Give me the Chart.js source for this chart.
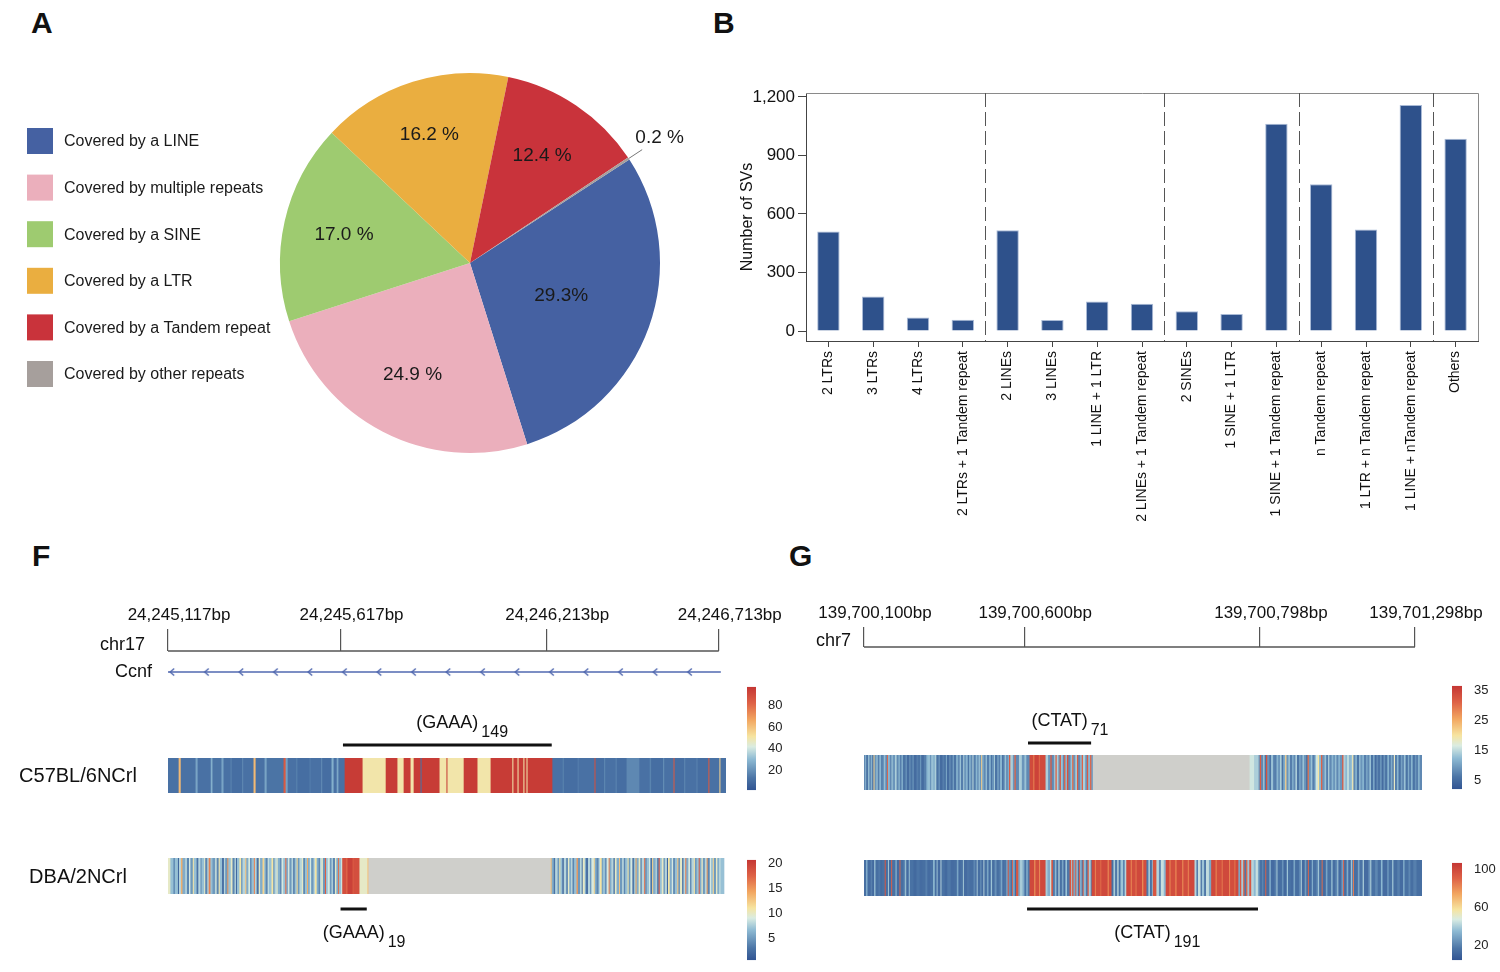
<!DOCTYPE html>
<html>
<head>
<meta charset="utf-8">
<script src="https://cdn.jsdelivr.net/npm/chart.js@4.4.1/dist/chart.umd.min.js"></script>
<style>
  body { margin: 0; background: #fff; width: 1500px; height: 972px; position: relative; overflow: hidden; }
  .box { position: absolute; }
  .tag { position: absolute; font: bold 30px "Liberation Sans", Arial, sans-serif; color: #111; line-height: 30px; }
</style>
</head>
<body>
<div class="tag" style="left:31px;top:8px">A</div>
<div class="tag" style="left:713px;top:8px">B</div>
<div class="tag" style="left:32px;top:541px">F</div>
<div class="tag" style="left:789px;top:541px">G</div>

<div class="box" style="left:0;top:0;width:720px;height:470px"><canvas id="pie"></canvas></div>
<div class="box" style="left:720px;top:40px;width:780px;height:500px"><canvas id="bars"></canvas></div>

<div class="box" style="left:0;top:590px;width:790px;height:100px"><canvas id="fHead"></canvas></div>
<div class="box" style="left:0;top:700px;width:790px;height:100px"><canvas id="fC57"></canvas></div>
<div class="box" style="left:0;top:840px;width:790px;height:132px"><canvas id="fDBA"></canvas></div>
<div class="box" style="left:740px;top:675px;width:60px;height:127px"><canvas id="fBar1"></canvas></div>
<div class="box" style="left:740px;top:848px;width:60px;height:124px"><canvas id="fBar2"></canvas></div>

<div class="box" style="left:780px;top:590px;width:720px;height:64px"><canvas id="gHead"></canvas></div>
<div class="box" style="left:780px;top:695px;width:720px;height:100px"><canvas id="gT1"></canvas></div>
<div class="box" style="left:780px;top:845px;width:720px;height:127px"><canvas id="gT2"></canvas></div>
<div class="box" style="left:1445px;top:674px;width:55px;height:127px"><canvas id="gBar1"></canvas></div>
<div class="box" style="left:1445px;top:851px;width:55px;height:121px"><canvas id="gBar2"></canvas></div>

<script>
// ---------- A: repeat class of SVs ----------
const repeatClasses = ['Covered by a LINE', 'Covered by multiple repeats', 'Covered by a SINE',
  'Covered by a LTR', 'Covered by a Tandem repeat', 'Covered by other repeats'];
const repeatShares = [29.3, 24.9, 17.0, 16.2, 12.4, 0.2];
const shareLabels = ['29.3%', '24.9 %', '17.0 %', '16.2 %', '12.4 %', '0.2 %'];

// ---------- B: repeat combinations ----------
const comboLabels = ['2 LTRs', '3 LTRs', '4 LTRs', '2 LTRs + 1 Tandem repeat', '2 LINEs', '3 LINEs',
  '1 LINE + 1 LTR', '2 LINEs + 1 Tandem repeat', '2 SINEs', '1 SINE + 1 LTR', '1 SINE + 1 Tandem repeat',
  'n Tandem repeat', '1 LTR + n Tandem repeat', '1 LINE + nTandem repeat', 'Others'];
const comboCounts = [510, 177, 69, 58, 517, 57, 152, 140, 101, 88, 1062, 752, 520, 1159, 986];
const groupEnds = [3, 7, 10, 13];
const countTicks = [0, 300, 600, 900, 1200];

// ---------- F: chr17 / Ccnf ----------
const chr17Ticks = [0, 500, 1096, 1596];
const chr17TickLabels = ['24,245,117bp', '24,245,617bp', '24,246,213bp', '24,246,713bp'];
const ccnfSpan = [0, 1602];
const ccnfArrows = [12, 112, 212, 312, 412, 512, 612, 712, 812, 912, 1012, 1112, 1212, 1312, 1412, 1512];

// coverage runs: [length in bp, depth]; null = no alignment
const c57Runs = [
  [32, 12], [6, 62], [43, 12], [6, 25], [38, 12], [5, 28], [26, 13], [6, 25],
  [20, 12], [4, 16], [30, 11], [3, 18], [30, 12], [6, 62], [26, 12], [6, 25], [49, 13], [6, 85], [6, 24],
  [25, 12], [3, 17], [35, 11], [4, 15], [30, 12], [3, 19], [27, 11], [6, 28], [9, 12], [5, 26], [18, 12],
  [52, 95], [67, 50], [34, 95], [18, 50], [20, 95], [9, 50], [20, 95], [3, 12], [52, 95], [20, 50], [3, 95],
  [47, 50], [40, 95], [38, 50], [63, 95], [3, 50], [12, 95], [3, 50], [14, 95], [3, 50], [6, 95], [3, 50], [72, 95],
  [30, 12], [3, 17], [40, 11], [4, 15], [45, 12], [3, 88],
  [25, 11], [3, 18], [30, 12], [4, 16], [28, 11], [37, 18],
  [30, 12], [4, 17], [35, 11], [3, 20], [27, 12], [3, 85],
  [28, 11], [3, 18], [32, 12], [4, 16], [31, 11], [3, 85], [29, 12], [3, 55], [15, 12]
];
const dbaRuns = [
  [8, 10], [9, 7], [4, 4], [9, 7], [3, 2], [6, 8], [4, 14], [8, 6], [5, 8], [6, 4],
  [4, 9], [7, 5], [3, 11], [8, 7], [5, 3], [6, 8], [4, 5], [7, 7], [3, 10], [6, 4],
  [4, 8], [5, 16], [6, 7], [8, 5], [4, 9], [6, 4], [3, 11], [7, 7], [5, 2], [4, 8],
  [6, 5], [3, 15], [7, 7], [5, 10], [6, 4], [4, 8], [3, 2], [7, 7], [5, 11], [4, 5],
  [8, 8], [3, 13], [6, 6], [5, 9], [4, 4], [7, 7], [3, 16], [5, 8], [6, 3], [4, 10],
  [7, 6], [5, 12], [4, 7], [6, 4], [3, 9], [8, 7], [5, 11], [4, 5], [6, 8], [3, 10],
  [7, 6], [4, 4], [5, 9], [6, 7], [3, 17], [5, 6], [4, 9], [6, 5], [5, 8], [4, 3],
  [6, 7], [3, 12], [5, 5], [7, 8], [4, 10], [5, 4], [6, 7], [3, 14], [5, 6], [4, 9],
  [7, 5], [4, 8], [5, 11], [6, 6], [3, 3], [5, 8], [4, 10], [6, 5], [3, 18], [5, 7],
  [6, 9], [5, 5], [4, 8], [6, 4], [4, 10], [5, 6], [3, 17], [6, 7], [3, 9],
  [12, 19], [3, 17], [15, 20], [3, 18], [17, 19], [23, 10], [3, 13], [528, null], [3, 13],
  [6, 6], [4, 3], [7, 8], [5, 5], [3, 11], [6, 7], [4, 2], [7, 8], [5, 4], [4, 10],
  [6, 6], [3, 9], [5, 4], [7, 7], [4, 15], [6, 5], [5, 8], [3, 3], [6, 10], [4, 6],
  [5, 2], [6, 8], [4, 5], [7, 9], [3, 12], [5, 6], [6, 4], [4, 8], [5, 11], [3, 5],
  [7, 7], [4, 4], [6, 9], [3, 16], [5, 6], [6, 8], [4, 3], [5, 10], [7, 6], [3, 13],
  [6, 5], [5, 8], [4, 4], [7, 7], [3, 11], [5, 5], [6, 9], [4, 2], [5, 7], [3, 14],
  [6, 6], [5, 10], [4, 4], [7, 8], [3, 17], [5, 5], [6, 7], [4, 9], [5, 3], [3, 12],
  [7, 6], [4, 8], [5, 4], [3, 19], [6, 7], [5, 10], [4, 5], [6, 8], [3, 2], [5, 11],
  [6, 6], [4, 9], [5, 4], [7, 7], [3, 13], [5, 5], [6, 10], [4, 3], [5, 8], [3, 16],
  [6, 6], [5, 9], [4, 4], [7, 8], [3, 11], [5, 5], [6, 7], [3, 18], [5, 6], [4, 10],
  [6, 5], [5, 8], [3, 15], [6, 4], [4, 9], [5, 7], [3, 12], [6, 5], [4, 10], [5, 6], [5, 8], [8, 7]
];
const c57Repeat = { unit: '(GAAA)', count: '149', from: 507, to: 1112 };
const dbaRepeat = { unit: '(GAAA)', count: '19', from: 500, to: 576 };
const c57Scale = [2, 97], c57ScaleTicks = [20, 40, 60, 80];
const dbaScale = [0.7, 20.8], dbaScaleTicks = [5, 10, 15, 20];

// ---------- G: chr7 ----------
const chr7Ticks = [0, 500, 1236, 1720];
const chr7TickLabels = ['139,700,100bp', '139,700,600bp', '139,700,798bp', '139,701,298bp'];
const g1Runs = [
  [5, 8], [3, 12], [6, 6], [4, 13], [5, 8], [3, 12], [5, 7], [3, 22],
  [6, 9], [4, 13], [5, 7], [6, 12], [4, 6], [5, 9], [4, 13], [5, 8], [3, 31],
  [6, 12], [5, 8], [4, 13], [7, 9], [5, 14], [6, 8], [4, 12], [5, 7], [5, 11],
  [8, 6], [4, 9], [7, 5], [5, 8], [6, 6], [3, 10], [9, 5], [5, 7], [6, 6], [4, 9], [8, 5], [8, 7],
  [6, 12], [5, 13], [4, 9], [7, 13], [4, 11], [5, 14],
  [7, 6], [4, 9], [8, 5], [5, 7], [6, 6], [3, 11], [7, 5], [5, 8], [6, 6], [4, 10], [7, 6],
  [5, 12], [6, 8], [4, 13], [7, 7], [3, 14], [6, 9], [5, 12], [4, 6], [6, 11], [5, 8], [3, 15], [7, 7], [5, 12], [4, 8], [4, 13], [4, 9],
  [3, 22],
  [5, 11], [6, 8], [4, 13], [7, 7], [5, 12], [4, 6], [6, 9], [3, 14], [7, 6], [5, 10], [4, 7], [6, 12], [5, 6], [4, 9], [4, 13], [5, 8], [4, 11],
  [4, 32], [8, 14], [5, 9], [4, 31], [10, 8], [9, 14], [8, 9], [6, 13], [10, 8],
  [12, 34], [3, 28], [14, 35], [3, 30], [18, 34], [8, 14], [7, 9],
  [4, 32], [7, 8], [5, 13], [4, 31], [5, 14], [4, 9], [4, 32], [6, 13], [4, 8], [4, 31], [5, 12], [4, 33], [7, 8], [5, 13],
  [4, 30], [6, 9], [5, 14], [4, 32], [6, 8], [5, 12], [4, 31], [7, 14], [5, 9], [4, 32], [6, 12], [4, 31], [5, 10],
  [489, null], [14, 16], [14, 14],
  [4, 9], [4, 32], [6, 8], [5, 13], [4, 6], [4, 33],
  [7, 9], [5, 6], [6, 13], [4, 8], [7, 7], [5, 12], [6, 9], [5, 14], [5, 6], [6, 11], [4, 22],
  [6, 9], [5, 13], [7, 7], [4, 12], [6, 8], [5, 14], [7, 6], [4, 11], [6, 8], [5, 13], [6, 9], [5, 6], [4, 30],
  [6, 9], [5, 13], [7, 7], [4, 12], [6, 16], [4, 20], [6, 12], [4, 31],
  [7, 9], [5, 13], [6, 7], [4, 14], [7, 8], [5, 12], [6, 9], [4, 13], [6, 8], [5, 12], [7, 9], [4, 32],
  [6, 14], [5, 12], [7, 15], [4, 11], [5, 13], [4, 19],
  [6, 8], [5, 12], [7, 6], [4, 13], [6, 9], [5, 12], [7, 7], [4, 11], [6, 8], [5, 13],
  [7, 6], [4, 12], [6, 5], [5, 8], [7, 6], [4, 10], [6, 5], [5, 9], [7, 6], [5, 12], [6, 7], [5, 11], [4, 6], [4, 18],
  [6, 7], [5, 12], [7, 6], [4, 10], [6, 8], [5, 13], [7, 6], [4, 11], [6, 7], [5, 12], [7, 6], [4, 9], [6, 7], [5, 12], [5, 8]
];
const g2Runs = [
  [8, 15], [4, 35], [10, 14], [5, 20], [6, 13], [4, 38], [9, 15], [6, 18], [6, 14], [8, 16],
  [3, 95], [7, 15], [3, 40], [7, 14], [3, 92], [10, 16], [5, 30], [8, 14], [3, 90],
  [10, 15], [5, 22], [3, 40], [8, 14], [3, 38], [12, 16], [9, 13], [10, 17], [8, 14], [10, 15], [6, 20], [9, 14], [9, 16], [5, 36],
  [6, 15], [3, 38], [9, 14], [3, 42], [10, 16], [8, 13], [11, 18], [9, 14], [10, 15], [5, 30], [6, 14], [8, 16], [3, 40],
  [10, 14], [8, 17], [12, 15], [6, 22], [4, 14], [3, 40],
  [8, 15], [4, 24], [6, 14], [3, 42], [8, 16], [5, 30], [7, 14], [4, 38], [8, 15], [6, 25], [7, 15],
  [6, 18], [5, 30], [4, 14], [8, 17], [5, 28],
  [3, 95], [6, 25], [4, 15], [3, 92], [6, 30], [4, 14], [7, 95], [5, 30], [8, 40], [6, 32], [6, 16], [4, 35], [6, 18],
  [15, 100], [3, 75], [12, 98], [3, 80], [17, 100],
  [6, 40], [8, 32], [4, 45], [5, 95], [6, 18], [5, 35], [6, 15], [4, 42], [7, 16], [5, 30], [6, 14], [5, 38], [8, 18],
  [5, 96], [3, 40], [4, 94], [6, 30], [3, 93], [5, 35], [3, 15], [3, 95], [6, 32], [3, 16], [3, 94], [7, 35], [5, 18], [4, 92], [6, 40], [3, 20],
  [10, 100], [3, 82], [14, 98], [3, 88], [20, 100], [3, 78], [9, 98],
  [6, 15], [5, 40], [7, 18], [4, 45], [6, 16], [8, 38], [5, 20], [5, 42],
  [14, 100], [3, 80], [12, 98], [3, 85], [18, 100], [3, 75], [10, 98],
  [6, 18], [5, 40], [6, 16], [3, 35], [11, 95], [8, 42], [6, 22], [9, 45], [6, 35],
  [12, 100], [3, 80], [15, 98], [4, 82], [18, 100], [3, 78], [14, 98], [4, 85], [17, 100],
  [6, 42], [5, 20], [8, 45], [4, 16], [7, 38], [6, 18], [9, 44], [7, 30],
  [14, 100], [3, 80], [16, 98], [3, 85], [20, 100], [3, 82], [13, 98], [4, 88], [9, 100],
  [5, 30], [4, 95], [6, 40], [4, 92], [5, 18], [4, 90], [6, 38], [6, 95],
  [8, 42], [6, 35], [7, 45], [5, 30], [8, 16], [4, 22], [6, 15], [3, 92],
  [10, 15], [4, 35], [12, 14], [6, 20], [3, 40], [14, 15], [5, 25], [10, 13], [4, 38], [9, 16], [8, 14], [5, 30],
  [12, 15], [6, 22], [3, 42], [9, 14], [5, 28], [5, 15], [3, 90],
  [9, 14], [4, 32], [11, 16], [5, 24], [3, 40], [8, 15], [3, 88],
  [10, 14], [5, 30], [12, 16], [4, 38], [9, 15], [6, 22], [3, 40], [10, 14], [5, 28], [3, 92],
  [8, 15], [5, 32], [8, 14], [4, 38], [3, 20], [3, 85],
  [12, 15], [5, 30], [10, 17], [4, 40], [14, 14], [6, 25], [3, 42], [12, 16], [8, 22], [10, 15], [5, 35],
  [14, 14], [6, 24], [10, 16], [4, 38], [12, 15], [8, 20], [10, 14], [5, 30], [12, 16], [6, 22], [9, 15], [10, 20], [15, 15]
];
const ctat71 = { unit: '(CTAT)', count: '71', from: 512, to: 709 };
const ctat191 = { unit: '(CTAT)', count: '191', from: 509, to: 1230 };
const g1Scale = [2, 36.6], g1ScaleTicks = [5, 15, 25, 35];
const g2Scale = [5, 107], g2ScaleTicks = [20, 60, 100];

// ---------- styling ----------
const FONT = '"Liberation Sans", Arial, Helvetica, sans-serif';
Chart.defaults.font.family = FONT;
Chart.defaults.color = '#111';
Chart.defaults.animation = false;
Chart.defaults.responsive = true;
Chart.defaults.maintainAspectRatio = false;
Chart.defaults.plugins.legend.display = false;
Chart.defaults.plugins.tooltip.enabled = false;

const pieColors = ['#4561a2', '#ebafbc', '#9ecb70', '#eaae40', '#c9333b', '#a69f9c'];
const labelRadius = [0.51, 0.66, 0.68, 0.71, 0.68, 1.195];
const gapColor = '#cfcfcb';
const heatStops = [
  [0.00, [49, 84, 146]],
  [0.12, [76, 117, 166]],
  [0.30, [142, 186, 211]],
  [0.42, [218, 236, 226]],
  [0.52, [246, 228, 160]],
  [0.68, [242, 166, 96]],
  [0.84, [222, 98, 70]],
  [1.00, [196, 54, 52]]
];

function heat(v, lo, hi) {
  if (v === null) return gapColor;
  const t = Math.min(1, Math.max(0, (v - lo) / (hi - lo)));
  for (let i = 1; i < heatStops.length; i++) {
    if (t <= heatStops[i][0]) {
      const [t0, c0] = heatStops[i - 1];
      const [t1, c1] = heatStops[i];
      const f = (t - t0) / (t1 - t0);
      return 'rgb(' + c0.map((c, k) => Math.round(c + (c1[k] - c) * f)).join(',') + ')';
    }
  }
  return 'rgb(196,54,52)';
}

function runsToBars(runs) {
  const bars = [];
  let pos = 0;
  for (const [len, val] of runs) {
    bars.push({ x: [pos, pos + len], y: 0, v: val });
    pos += len;
  }
  return bars;
}

// ---------- A ----------
const pieDecor = {
  id: 'pieDecor',
  afterDraw(chart) {
    const ctx = chart.ctx;
    ctx.save();
    ctx.font = '19px ' + FONT;
    ctx.fillStyle = '#1a1a1a';
    ctx.textAlign = 'center';
    ctx.textBaseline = 'middle';
    chart.getDatasetMeta(0).data.forEach((arc, i) => {
      const p = arc.getProps(['x', 'y', 'startAngle', 'endAngle', 'outerRadius'], true);
      const mid = (p.startAngle + p.endAngle) / 2;
      const r = p.outerRadius;
      if (labelRadius[i] > 1) {
        ctx.strokeStyle = '#777';
        ctx.lineWidth = 1;
        ctx.beginPath();
        ctx.moveTo(p.x + Math.cos(mid) * r, p.y + Math.sin(mid) * r);
        ctx.lineTo(p.x + Math.cos(mid) * r * 1.085, p.y + Math.sin(mid) * r * 1.085);
        ctx.stroke();
      }
      ctx.fillText(shareLabels[i], p.x + Math.cos(mid) * r * labelRadius[i], p.y + Math.sin(mid) * r * labelRadius[i]);
    });
    // legend
    ctx.font = '16px ' + FONT;
    ctx.textAlign = 'left';
    repeatClasses.forEach((name, i) => {
      const cy = 141 + i * 46.6;
      ctx.fillStyle = pieColors[i];
      ctx.fillRect(27, cy - 13, 26, 26);
      ctx.fillStyle = '#1a1a1a';
      ctx.fillText(name, 64, cy + 1);
    });
    ctx.restore();
  }
};

new Chart(document.getElementById('pie'), {
  type: 'pie',
  data: {
    labels: repeatClasses,
    datasets: [{ data: repeatShares, backgroundColor: pieColors, borderWidth: 0 }]
  },
  options: {
    rotation: 57,
    layout: { padding: { left: 280, right: 60, top: 73, bottom: 17 } }
  },
  plugins: [pieDecor]
});

// ---------- B ----------
const barFrame = {
  id: 'barFrame',
  afterDraw(chart) {
    const { ctx, chartArea: a } = chart;
    const x = chart.scales.x;
    ctx.save();
    ctx.strokeStyle = '#8a8a8a';
    ctx.lineWidth = 1;
    ctx.beginPath();
    ctx.moveTo(a.left, a.top + 0.5);
    ctx.lineTo(a.right + 0.5, a.top + 0.5);
    ctx.lineTo(a.right + 0.5, a.bottom);
    ctx.stroke();
    ctx.strokeStyle = '#555';
    ctx.setLineDash([14, 5]);
    groupEnds.forEach(i => {
      const px = Math.round((x.getPixelForValue(i) + x.getPixelForValue(i + 1)) / 2) + 0.5;
      ctx.beginPath();
      ctx.moveTo(px, a.top);
      ctx.lineTo(px, a.bottom);
      ctx.stroke();
    });
    ctx.restore();
  }
};

new Chart(document.getElementById('bars'), {
  type: 'bar',
  data: {
    labels: comboLabels,
    datasets: [{
      data: comboCounts,
      backgroundColor: '#2e518b',
      borderColor: '#a9bad6',
      borderWidth: 1,
      barPercentage: 0.5,
      categoryPercentage: 1
    }]
  },
  options: {
    layout: { padding: { top: 53, right: 22, left: 0, bottom: 0 } },
    scales: {
      x: {
        afterFit: s => { s.height = 199; },
        grid: { drawOnChartArea: false, offset: false, tickLength: 6, color: '#444' },
        border: { color: '#444' },
        ticks: { minRotation: 90, maxRotation: 90, autoSkip: false, font: { size: 14 }, color: '#111', padding: 4 }
      },
      y: {
        min: -51,
        max: 1220,
        afterBuildTicks: s => { s.ticks = countTicks.map(v => ({ value: v })); },
        afterFit: s => { s.width = 86; },
        grid: { drawOnChartArea: false, tickLength: 8, color: '#444' },
        border: { color: '#444' },
        ticks: { font: { size: 17 }, color: '#111', padding: 3, callback: v => v.toLocaleString('en-US') },
        title: { display: true, text: 'Number of SVs', font: { size: 16 }, color: '#111', padding: { top: 18, bottom: 0 } }
      }
    }
  },
  plugins: [barFrame]
});

// ---------- genome tracks ----------
const rulerDecor = {
  id: 'rulerDecor',
  afterDraw(chart, args, o) {
    const { ctx, chartArea: a } = chart;
    const x = chart.scales.x;
    ctx.save();
    ctx.strokeStyle = '#555';
    ctx.lineWidth = 1.5;
    ctx.beginPath();
    ctx.moveTo(x.getPixelForValue(o.from), a.top);
    ctx.lineTo(x.getPixelForValue(o.to), a.top);
    ctx.stroke();
    ctx.font = '18px ' + FONT;
    ctx.fillStyle = '#111';
    ctx.textAlign = 'right';
    ctx.textBaseline = 'alphabetic';
    ctx.fillText(o.chrom, a.left - o.chromGap, a.top - 1);
    if (o.gene) {
      ctx.textBaseline = 'middle';
      ctx.fillText(o.gene, a.left - 16, chart.scales.y.getPixelForValue(o.geneRow));
    }
    ctx.restore();
  }
};

function rulerChart(id, span, ticks, tickText, axisH, tickLen, padding, decor, datasets) {
  new Chart(document.getElementById(id), {
    type: 'line',
    data: { datasets: datasets },
    options: {
      layout: { padding: padding },
      scales: {
        x: {
          type: 'linear', position: 'top', min: 0, max: span,
          afterBuildTicks: s => { s.ticks = ticks.map(v => ({ value: v })); },
          afterFit: s => { s.height = axisH; },
          ticks: { autoSkip: false, maxRotation: 0, padding: 3, labelOffset: 11, font: { size: 17 }, color: '#111', callback: (v, i) => tickText[i] },
          grid: { drawOnChartArea: false, tickLength: tickLen, color: '#555', lineWidth: 1.2 },
          border: { display: false }
        },
        y: { display: false, min: 0, max: 1 }
      },
      plugins: { rulerDecor: decor }
    },
    plugins: [rulerDecor]
  });
}

const chevron = document.createElement('canvas');
chevron.width = 8; chevron.height = 10;
(function () {
  const c = chevron.getContext('2d');
  c.strokeStyle = '#4c64ad';
  c.lineWidth = 1.3;
  c.beginPath();
  c.moveTo(6, 1.5); c.lineTo(2, 5); c.lineTo(6, 8.5);
  c.stroke();
})();

const geneRow = 0.46;
const genePoints = [ccnfSpan[0], ...ccnfArrows, ccnfSpan[1]].map(v => ({ x: v, y: geneRow }));

rulerChart('fHead', 1617, chr17Ticks, chr17TickLabels, 61, 22,
  { left: 168, right: 64, top: 0, bottom: 0 },
  { from: chr17Ticks[0], to: chr17Ticks[3], chrom: 'chr17', chromGap: 23, gene: 'Ccnf', geneRow: geneRow },
  [{
    data: genePoints,
    borderColor: '#5068b0',
    borderWidth: 1.5,
    pointStyle: chevron,
    pointRadius: ctx => (ctx.dataIndex === 0 || ctx.dataIndex === genePoints.length - 1) ? 0 : 5,
    clip: false
  }]);

rulerChart('gHead', 1742, chr7Ticks, chr7TickLabels, 57, 20,
  { left: 84, right: 78, top: 0, bottom: 0 },
  { from: chr7Ticks[0], to: chr7Ticks[3], chrom: 'chr7', chromGap: 13 },
  []);

const trackDecor = {
  id: 'trackDecor',
  afterDraw(chart, args, o) {
    const { ctx, chartArea: a } = chart;
    const x = chart.scales.x;
    ctx.save();
    ctx.fillStyle = '#111';
    if (o.name) {
      ctx.font = '20px ' + FONT;
      ctx.textAlign = 'center';
      ctx.textBaseline = 'middle';
      ctx.fillText(o.name, o.nameX, (a.top + a.bottom) / 2 + 1);
    }
    const r = o.repeat;
    const x0 = x.getPixelForValue(r.from), x1 = x.getPixelForValue(r.to);
    const ly = o.below ? a.bottom + o.gap : a.top - o.gap;
    ctx.strokeStyle = '#111';
    ctx.lineWidth = 3;
    ctx.beginPath();
    ctx.moveTo(x0, ly);
    ctx.lineTo(x1, ly);
    ctx.stroke();
    const cx = (x0 + x1) / 2;
    const by = o.below ? ly + 29 : ly - 17;
    ctx.font = '18px ' + FONT;
    ctx.textAlign = 'center';
    ctx.textBaseline = 'alphabetic';
    ctx.fillText(r.unit, cx, by);
    const w = ctx.measureText(r.unit).width;
    ctx.font = '16px ' + FONT;
    ctx.textAlign = 'left';
    ctx.fillText(r.count, cx + w / 2 + 3, by + 9);
    ctx.restore();
  }
};

function trackChart(id, runs, span, scale, padding, thick, decor) {
  new Chart(document.getElementById(id), {
    type: 'bar',
    data: {
      datasets: [{
        data: runsToBars(runs),
        backgroundColor: ctx => heat(ctx.raw.v, scale[0], scale[1]),
        borderWidth: 0,
        barThickness: thick,
        inflateAmount: 0.4
      }]
    },
    options: {
      indexAxis: 'y',
      layout: { padding: padding },
      scales: {
        x: { type: 'linear', min: 0, max: span, display: false },
        y: { type: 'linear', min: -0.5, max: 0.5, display: false }
      },
      plugins: { trackDecor: decor }
    },
    plugins: [trackDecor]
  });
}

trackChart('fC57', c57Runs, 1617, c57Scale, { left: 168, right: 64, top: 58, bottom: 7 }, 35,
  { name: 'C57BL/6NCrl', nameX: 78, repeat: c57Repeat, below: false, gap: 13 });
trackChart('fDBA', dbaRuns, 1617, dbaScale, { left: 168, right: 64, top: 18, bottom: 78 }, 36,
  { name: 'DBA/2NCrl', nameX: 78, repeat: dbaRepeat, below: true, gap: 15 });
trackChart('gT1', g1Runs, 1742, g1Scale, { left: 84, right: 78, top: 60, bottom: 5 }, 35,
  { repeat: ctat71, below: false, gap: 12 });
trackChart('gT2', g2Runs, 1742, g2Scale, { left: 84, right: 78, top: 15, bottom: 76 }, 36,
  { repeat: ctat191, below: true, gap: 13 });

// ---------- colour keys ----------
function colorKey(id, scale, ticks, padding, axisW) {
  new Chart(document.getElementById(id), {
    type: 'bar',
    data: {
      labels: [''],
      datasets: [{
        data: [[scale[0], scale[1]]],
        backgroundColor: ctx => {
          const area = ctx.chart.chartArea;
          if (!area) return '#888';
          const g = ctx.chart.ctx.createLinearGradient(0, area.bottom, 0, area.top);
          heatStops.forEach(([t, c]) => g.addColorStop(t, 'rgb(' + c.join(',') + ')'));
          return g;
        },
        borderWidth: 0,
        barPercentage: 1,
        categoryPercentage: 1,
        inflateAmount: 0
      }]
    },
    options: {
      layout: { padding: padding },
      scales: {
        x: { display: false },
        y: {
          position: 'right', min: scale[0], max: scale[1],
          afterBuildTicks: s => { s.ticks = ticks.map(v => ({ value: v })); },
          afterFit: s => { s.width = axisW; },
          grid: { display: false },
          border: { display: false },
          ticks: { font: { size: 13 }, color: '#222', padding: 4 }
        }
      }
    }
  });
}

colorKey('fBar1', c57Scale, c57ScaleTicks, { left: 7, top: 10, bottom: 10, right: 0 }, 44);
colorKey('fBar2', dbaScale, dbaScaleTicks, { left: 7, top: 10, bottom: 7, right: 0 }, 44);
colorKey('gBar1', g1Scale, g1ScaleTicks, { left: 7, top: 10, bottom: 10, right: 0 }, 38);
colorKey('gBar2', g2Scale, g2ScaleTicks, { left: 7, top: 10, bottom: 7, right: 0 }, 38);
</script>
</body>
</html>
